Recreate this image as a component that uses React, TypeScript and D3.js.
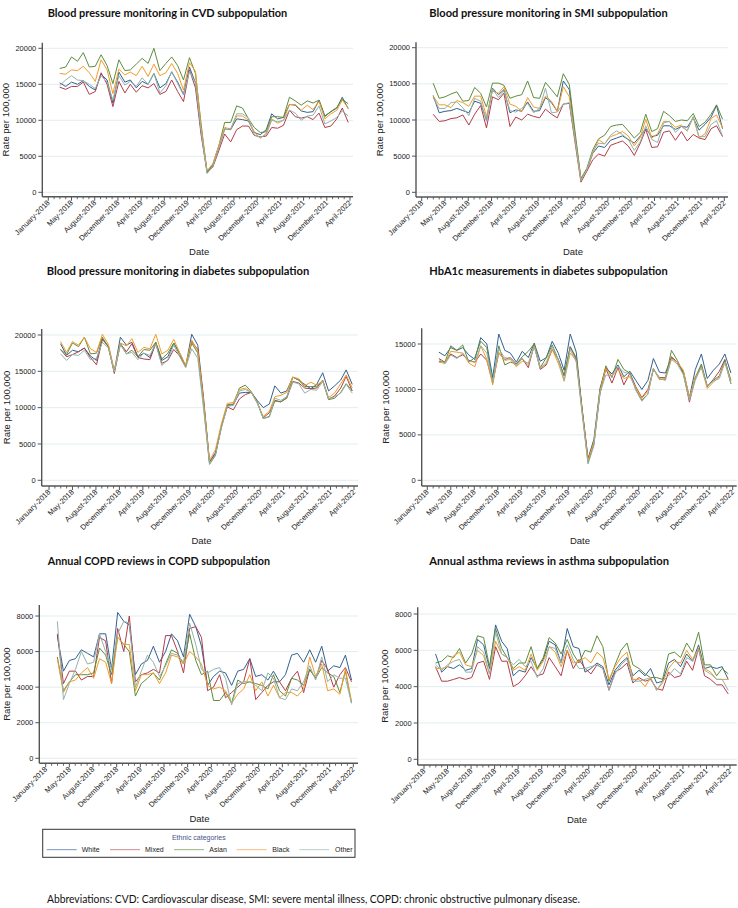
import React from "react";
import * as d3 from "d3";

// ---------- categories ----------
const months: Date[] = d3.timeMonth.range(new Date(2018, 2, 1), new Date(2022, 4, 1)); // Mar 2018 .. Apr 2022
const xTickLabels = [
  "January-2018", "May-2018", "August-2018", "December-2018", "April-2019", "August-2019",
  "December-2019", "April-2020", "August-2020", "December-2020", "April-2021", "August-2021",
  "December-2021", "April-2022",
];
const ethnicGroups = ["White", "Mixed", "Asian", "Black", "Other"];
const groupColors = ["#33618f", "#b13c4b", "#5f8c3d", "#f39c26", "#92b3ab"];
const legendColors = ["#8ea8c6", "#d7a0a7", "#a9c293", "#f8c88e", "#c5d7d2"];

// ---------- Blood pressure monitoring in CVD ----------
const cvdWhite = [15200,14700,15300,15000,15500,14700,14200,16400,15600,12400,16700,15300,15600,14500,15400,15000,16500,14500,15100,16700,15300,13600,17400,15200,8500,2900,3700,6300,8800,8700,10200,10100,9900,8300,8000,8700,10900,10200,10400,12200,12100,11300,11100,11200,12800,10600,11200,11700,13200,11600];
const cvdMixed = [14600,14300,14700,14700,15300,13600,14000,16600,15000,11900,15400,13800,15000,13900,14800,14500,15100,13600,14000,15600,14000,12600,17000,14500,8000,2800,3500,5800,8100,7000,8700,9200,9200,7900,7700,7800,9000,8900,9300,11400,10500,10300,10500,10100,11000,9000,9200,10200,11700,9700];
const cvdAsian = [17200,17400,18800,18200,19400,17400,17500,19100,17600,15100,18400,16900,17000,17800,18600,17900,20000,16900,17900,18800,17600,15600,18700,16500,9500,2700,3900,6500,9700,9700,12000,11700,10200,9000,8300,8400,10500,10500,10400,13200,12700,12100,12700,12400,12800,10500,11200,11800,12900,12300];
const cvdBlack = [16500,16400,17000,16900,17500,16600,15400,18400,17000,13700,17100,16300,16700,16200,17500,16100,17800,16200,16600,17900,16500,14200,18000,16800,9000,3000,4000,6500,9000,8800,10600,10600,10000,8400,7500,8200,10200,9600,10000,12200,12200,11400,12100,11500,12600,10200,10900,11400,12800,11700];
const cvdOther = [14800,15600,16200,15600,15500,15000,14400,16200,15300,12800,16200,14900,15400,14700,15900,15000,16500,13800,14800,16800,15100,13500,16800,15200,8500,2600,3600,6200,8700,8800,10900,10900,10300,8000,7600,8000,10000,9800,10000,11400,11000,10000,10600,10700,12000,9500,9900,10400,11300,10600];

// ---------- Blood pressure monitoring in SMI ----------
const smiWhite = [13400,11000,11200,11300,11600,11300,11000,12600,12300,10000,14400,13500,14200,11000,11400,11200,12500,11200,11300,13100,12400,11200,15400,14200,7800,1800,3000,5400,6400,6200,7200,7500,7800,7300,6800,7800,8800,7700,7900,9200,9200,8700,9100,9000,10300,8600,9400,10400,12000,8800];
const smiMixed = [10800,9800,9900,10200,10300,10700,9300,10800,12000,8900,13200,12800,13700,9100,10400,10000,10800,10500,10300,11500,10800,10300,12200,12300,7000,1400,2900,4500,5300,5000,6500,6800,7100,6400,5100,6800,8700,6200,6300,8300,8500,7200,8400,7100,8000,7500,7300,8800,9200,7700];
const smiAsian = [15100,13000,13200,13600,13900,12600,12700,14500,13700,11800,15100,15100,14800,13000,13300,13500,15400,13100,13000,15200,14200,13200,16400,14900,8500,1900,3300,5900,7400,7900,9100,9300,9400,8500,7500,8300,10800,8400,8800,11200,10600,9800,10000,9900,10900,9100,9700,10800,12100,10100];
const smiBlack = [13300,12100,12100,11700,12700,12400,11900,13300,13300,10500,14000,13700,14600,12200,11900,11200,13100,11800,11600,13300,12600,11200,14600,13200,7500,1700,3100,5400,7300,6700,7700,8000,8400,7800,6400,7600,10100,7500,8100,9800,9800,9000,9300,8500,10400,7500,8100,10200,10700,8900];
const smiOther = [13100,11600,11600,12400,12500,11700,10600,13000,12600,9800,14300,13100,14000,11300,11100,11600,12300,11000,11600,14400,11000,11100,12200,12400,7500,1600,3100,5700,6800,6700,7900,8500,8000,7300,5800,7000,9200,7300,6900,9600,9800,8300,9100,8500,10500,7700,7700,9400,9900,7800];

// ---------- Blood pressure monitoring in diabetes ----------
const diabWhite = [18800,17200,17900,17700,18200,17100,16500,19500,18400,15000,19700,18600,19000,17000,17500,16900,19000,16500,17000,18900,17500,15700,20100,18600,11500,2500,3800,7500,10300,10400,12000,12100,12100,11000,10000,10500,13000,12000,12300,14200,13800,13200,12600,13200,14800,12300,13000,13800,15200,13200];
const diabMixed = [18000,17000,17300,17700,18200,16900,15900,19400,18400,14700,18800,17700,18800,16900,16700,16600,18800,16100,16500,18000,17100,15600,19100,18000,11000,2600,3600,7400,10100,9700,11200,11800,12100,10700,8600,9300,11000,10800,11300,13600,13400,12700,12600,12700,13800,11200,11600,12700,14300,12300];
const diabAsian = [18000,17300,18900,18400,19700,17400,17500,19700,18300,15000,18800,17400,17900,17000,18000,17900,19000,16700,17500,18900,17300,15800,18900,17500,10500,2200,3400,7400,10400,10500,12700,13100,12200,10800,8500,8800,10900,10800,11400,14200,13800,12900,12900,12900,13700,11100,11300,12100,13300,12300];
const diabBlack = [19100,17600,19100,18600,19700,18100,17600,20100,18700,15100,18900,18500,19500,17600,18300,18100,20100,17400,17900,19400,17500,15800,19300,17800,11000,2700,4200,7800,10600,10700,12500,12700,12100,10600,8800,9500,11500,11700,12100,14200,14000,13000,13500,13100,13700,11400,12000,13300,14500,12700];
const diabOther = [17400,16500,17300,17200,17900,16600,16800,19000,18200,14900,18700,17400,17600,16600,17500,17200,18800,15800,16600,18600,17000,15500,18100,16800,10000,2300,3500,7200,10200,10300,12300,12500,12100,10700,8500,8700,11300,11000,11500,13500,13300,12000,12500,12400,13600,11200,11500,12000,13200,12000];

// ---------- HbA1c measurements in diabetes ----------
const hbaWhite = [14100,13700,14600,14300,14600,13800,13300,15700,15000,11300,16100,14300,14000,13000,14200,13500,15100,13100,13500,15300,14000,12100,16100,14100,8000,2400,4500,10100,12400,11700,12700,11400,12000,11000,10000,11000,13400,11900,11800,13500,13000,12000,9100,12200,13900,11200,12100,12800,13900,11800];
const hbaMixed = [13400,13000,13900,13500,13800,13200,13000,13900,13200,10800,14000,13300,13500,12800,13400,12400,14900,12200,12700,14400,13300,11500,14700,13300,8000,2300,4100,9500,12300,10700,12400,10500,11800,10300,9100,10000,12200,11300,11300,13600,13000,11800,8600,11300,12600,10300,11100,12000,13300,10600];
const hbaAsian = [13100,13000,14800,14300,14900,13000,13500,15300,14600,10700,14800,12700,13000,12800,13600,14200,15000,12400,13500,14900,13300,11500,14700,13500,7800,1900,4000,9800,12600,11300,13300,12200,11800,10000,8800,9500,12300,11100,11100,14300,13200,11800,9000,11300,12800,10400,11000,11500,13200,11000];
const hbaBlack = [13000,12900,14200,14100,14000,12900,12500,14800,13300,10500,14100,13200,13300,12500,13100,12900,14800,12400,12800,14400,12900,10900,14000,13200,7700,2200,4200,9800,12300,11500,12200,11200,11400,10200,9000,9800,12300,11100,11200,13400,13000,12100,9100,11300,12400,10100,10800,11400,13000,10800];
const hbaOther = [13300,12800,13800,13400,14000,13100,13000,14800,14000,10800,14400,13500,13400,12600,13400,12700,14700,12300,13000,14700,13300,11000,14400,13000,7500,1800,3800,9600,11600,11500,12500,11900,11700,9900,8700,9500,12300,11200,11000,13300,12800,11600,8800,11000,12500,10400,10900,11200,13000,10600];

// ---------- Annual COPD reviews ----------
const copdWhite = [6900,4900,5500,5600,6100,5900,5700,7000,7000,5000,8200,7700,7500,4700,5300,5500,6300,5400,6000,7000,6600,5700,8100,7400,6300,4100,4600,4900,4800,4100,4900,5000,5600,4600,4700,4400,4900,4300,4700,5800,5900,5400,6100,5400,6300,4900,5200,5100,5800,4400];
const copdMixed = [7000,4200,4900,4900,4400,4600,4600,6800,6600,4200,7300,6000,8000,4300,4700,4800,5000,4800,6900,6900,6000,4800,7300,7400,6800,3800,4000,4700,3400,3700,4000,4300,5600,3300,3700,4100,4300,4300,3800,4500,4900,3700,5000,4500,5500,5000,4000,4700,5100,4300];
const copdAsian = [5700,3800,4300,4700,4700,4700,4800,6200,5800,4700,6800,6400,6000,3500,4200,4500,4800,4400,5300,6100,5900,5300,7000,5500,4700,4900,3250,3250,3700,3100,4400,4200,4300,4200,4100,3900,4700,3800,3500,4500,4400,4100,5000,4500,5100,4800,4600,3700,4900,3100];
const copdBlack = [5600,3700,4300,4400,4800,5100,4500,5600,5400,4200,6800,6400,6400,3800,4700,4700,4800,4200,4800,5800,5700,5300,6000,5700,5300,4100,3900,4000,3800,3100,3600,3900,4700,3800,4300,3500,4100,3400,3700,3700,3500,3900,5700,4600,5300,3800,3900,3600,5000,3200];
const copdOther = [7700,3300,4200,5000,6000,5300,5400,7000,6000,5000,7000,7700,7600,4000,4900,5800,5400,4600,5200,5900,5800,5400,7600,6400,5000,4800,5000,5100,4500,3000,4200,4300,4300,4100,3800,4800,4500,3400,3300,3900,3800,4300,5200,4400,5700,4300,4700,4500,4500,3100];

// ---------- Annual asthma reviews ----------
const asthWhite = [5800,4800,5100,5000,5200,4900,5000,6600,6300,5000,7400,6500,6100,4600,4900,4800,5600,5000,5500,6500,6300,5300,7200,6200,6100,4800,5000,5300,5100,4100,4900,5300,5600,4600,4900,4600,5000,4200,4300,5300,5500,5100,5800,5400,6300,5000,5100,5000,5100,4400];
const asthMixed = [5100,4300,4300,4400,4500,4400,4500,5300,5400,4400,6200,5400,5400,4000,4200,4600,5100,4600,4700,5600,5100,4600,6000,5000,5500,5000,4700,5200,5000,3800,4800,5000,5300,4200,4500,4300,4400,3900,3800,4800,4500,4600,5400,4900,6100,4600,4400,4100,4100,3600];
const asthAsian = [5300,5400,5700,5600,6100,5300,5800,6800,6700,5100,7200,6100,5600,5000,5300,5300,6200,5000,5600,6700,6400,5800,6600,5800,5300,6000,5900,6800,6200,4300,5200,6000,6400,5200,5000,4700,4500,4500,4400,5800,5900,5600,6400,5900,7000,5200,5200,4600,5000,4700];
const asthBlack = [5000,5000,5100,5700,5900,5200,5100,6000,5700,4700,6500,5800,5600,4900,5100,4900,5800,4900,5400,6200,5900,5100,6000,5300,5400,5600,5300,5900,5600,4400,5100,5600,5900,4400,4400,4000,4500,3800,4200,5000,5400,5300,6000,5500,6100,5000,4800,4400,4400,4400];
const asthOther = [5200,4900,5200,5400,5500,4800,4800,6200,5900,4700,7000,5800,5600,5200,5500,5100,5400,4500,5000,6200,6100,5300,6300,5500,5000,5000,5100,5200,5000,3800,4700,5200,5500,4300,4300,4400,4500,3800,4300,4600,5000,4700,5600,5400,6000,4900,4700,4400,4400,3800];

const ticks20k = [0, 5000, 10000, 15000, 20000];
const ticks15k = [0, 5000, 10000, 15000];
const ticks8k = [0, 2000, 4000, 6000, 8000];

const titles = [
  "Blood pressure monitoring in CVD subpopulation",
  "Blood pressure monitoring in SMI subpopulation",
  "Blood pressure monitoring in diabetes subpopulation",
  "HbA1c measurements in diabetes subpopulation",
  "Annual COPD reviews in COPD subpopulation",
  "Annual asthma reviews in asthma subpopulation",
];
const footnote =
  "Abbreviations: CVD: Cardiovascular disease, SMI: severe mental illness, COPD: chronic obstructive pulmonary disease.";

// layout (pixels)
const layouts = [
  { titleX: 47.7, titleY: 17, titleW: 239.6, axisX: 42.3, top: 42.7, bottom: 196.7, right: 353, y0: 192.3, yT: 48.3, yTV: 20000, xJan: 48.3, xApr: 350, ylabX: 5.5, dateY: 255.3 },
  { titleX: 429.3, titleY: 17, titleW: 238.4, axisX: 416, top: 42.3, bottom: 197, right: 728, y0: 192.3, yT: 47.7, yTV: 20000, xJan: 421.7, xApr: 724.3, ylabX: 379.7, dateY: 255.3 },
  { titleX: 46.7, titleY: 274.5, titleW: 262.6, axisX: 41.7, top: 329, bottom: 486, right: 358, y0: 480.3, yT: 335, yTV: 20000, xJan: 49, xApr: 354, ylabX: 6.3, dateY: 543.7 },
  { titleX: 429.3, titleY: 274.5, titleW: 238.4, axisX: 421.7, top: 328.3, bottom: 486, right: 736.7, y0: 480.3, yT: 344, yTV: 15000, xJan: 427.3, xApr: 732.7, ylabX: 385.3, dateY: 543.7 },
  { titleX: 47.7, titleY: 565, titleW: 222.3, axisX: 39.3, top: 605, bottom: 763.3, right: 358, y0: 758.3, yT: 616, yTV: 8000, xJan: 45.7, xApr: 353.3, ylabX: 6.3, dateY: 822 },
  { titleX: 429.3, titleY: 565, titleW: 239.7, axisX: 417.7, top: 607.3, bottom: 765, right: 736.7, y0: 759.3, yT: 614, yTV: 8000, xJan: 424, xApr: 730, ylabX: 384.5, dateY: 823 },
];

const panelSeries = [
  [cvdWhite, cvdMixed, cvdAsian, cvdBlack, cvdOther],
  [smiWhite, smiMixed, smiAsian, smiBlack, smiOther],
  [diabWhite, diabMixed, diabAsian, diabBlack, diabOther],
  [hbaWhite, hbaMixed, hbaAsian, hbaBlack, hbaOther],
  [copdWhite, copdMixed, copdAsian, copdBlack, copdOther],
  [asthWhite, asthMixed, asthAsian, asthBlack, asthOther],
];
const panelTicks = [ticks20k, ticks20k, ticks20k, ticks15k, ticks8k, ticks8k];

const START = new Date(2018, 0, 1);
const majorDates = xTickLabels.map((_, k) => d3.timeDay.offset(START, 120 * k));
const minorDates = d3.range(0, 53).filter((k) => k % 4 !== 0).map((k) => d3.timeDay.offset(START, 30 * k));

const SANS = "'Liberation Sans', Arial, Helvetica, sans-serif";
const TITLEFONT = "Lato, 'Open Sans', sans-serif";
const AXIS = "#555";

function Panel({ idx }: { idx: number }) {
  const L = layouts[idx];
  const x = d3.scaleTime().domain([START, majorDates[majorDates.length - 1]]).range([L.xJan, L.xApr]);
  const y = d3.scaleLinear().domain([0, L.yTV]).range([L.y0, L.yT]);
  const line = d3
    .line<number>()
    .x((_, i) => x(months[i]))
    .y((v) => y(v));
  const series = panelSeries[idx];
  const yTicks = panelTicks[idx];
  return (
    <g>
      <text x={L.titleX} y={L.titleY} fontFamily={TITLEFONT} fontWeight={700} fontSize={11.5} fill="#111"
        textLength={L.titleW} lengthAdjust="spacingAndGlyphs">
        {titles[idx]}
      </text>
      {yTicks.map((t) => (
        <line key={"g" + t} x1={L.axisX} x2={L.right} y1={y(t)} y2={y(t)} stroke="#e3edf0" strokeWidth={1} />
      ))}
      {series.map((s, j) => (
        <path key={j} d={line(s) || ""} fill="none" stroke={groupColors[j]} strokeWidth={1} strokeLinejoin="round" />
      ))}
      <line x1={L.axisX} x2={L.axisX} y1={L.top} y2={L.bottom} stroke={AXIS} strokeWidth={1.4} />
      <line x1={L.axisX} x2={L.right} y1={L.bottom} y2={L.bottom} stroke={AXIS} strokeWidth={1.4} />
      {yTicks.map((t) => (
        <g key={"t" + t}>
          <line x1={L.axisX - 4} x2={L.axisX} y1={y(t)} y2={y(t)} stroke={AXIS} strokeWidth={1} />
          <text x={L.axisX - 6} y={y(t)} dy="0.35em" textAnchor="end" fontFamily={SANS} fontSize={7.5} fill="#222">
            {t}
          </text>
        </g>
      ))}
      {minorDates.map((d, k) => (
        <line key={"m" + k} x1={x(d)} x2={x(d)} y1={L.bottom} y2={L.bottom + 2.5} stroke={AXIS} strokeWidth={0.9} />
      ))}
      {majorDates.map((d, k) => (
        <g key={"M" + k}>
          <line x1={x(d)} x2={x(d)} y1={L.bottom} y2={L.bottom + 4} stroke={AXIS} strokeWidth={1} />
          <text transform={`translate(${x(d) + 2},${L.bottom + 6.5}) rotate(-45)`} textAnchor="end"
            fontFamily={SANS} fontSize={7.5} fill="#222">
            {xTickLabels[k]}
          </text>
        </g>
      ))}
      <text x={(L.xJan + L.xApr) / 2} y={L.dateY} textAnchor="middle" fontFamily={SANS} fontSize={9.5} fill="#222">
        Date
      </text>
      <text transform={`translate(${L.ylabX},${(L.top + L.bottom) / 2}) rotate(-90)`} textAnchor="middle"
        dominantBaseline="central" fontFamily={SANS} fontSize={9.5} fill="#222">
        Rate per 100,000
      </text>
    </g>
  );
}

const legendItems = [
  { lx: 46.7, tx: 81.7 },
  { lx: 110, tx: 145 },
  { lx: 174, tx: 209.3 },
  { lx: 236.7, tx: 272.3 },
  { lx: 299.3, tx: 335 },
];

export default function App() {
  return (
    <svg width={738} height={908} style={{ position: "absolute", left: 0, top: 0, background: "#fff" }}>
      <rect x={0} y={0} width={738} height={908} fill="#fff" />
      {layouts.map((_, i) => (
        <Panel key={i} idx={i} />
      ))}
      <defs>
        <clipPath id="legclip">
          <rect x={42.7} y={829.3} width={312.3} height={28} />
        </clipPath>
      </defs>
      <rect x={42.7} y={829.3} width={312.3} height={28} fill="#fff" stroke="#333" strokeWidth={1} />
      <text x={198.8} y={840} textAnchor="middle" fontFamily={SANS} fontSize={7} fill="#46528a">
        Ethnic categories
      </text>
      {ethnicGroups.map((g, j) => (
        <rect key={"l" + g} x={legendItems[j].lx} y={849} width={30} height={1.2} fill={legendColors[j]} />
      ))}
      <g clipPath="url(#legclip)">
        {ethnicGroups.map((g, j) => (
          <text key={g} x={legendItems[j].tx} y={852.2} fontFamily={SANS} fontSize={7} fill="#222">
            {g}
          </text>
        ))}
      </g>
      <text x={47} y={902.5} fontFamily={TITLEFONT} fontSize={10.5} fill="#111" textLength={533} lengthAdjust="spacingAndGlyphs">
        {footnote}
      </text>
    </svg>
  );
}
